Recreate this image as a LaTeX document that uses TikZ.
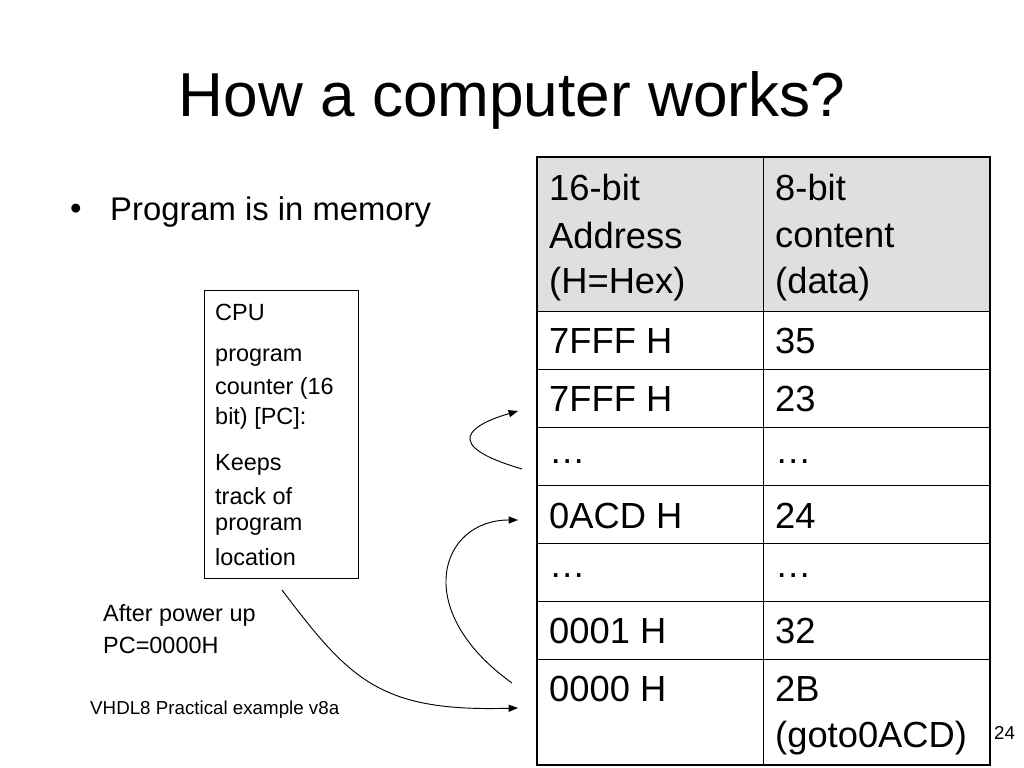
\documentclass[tikz,border=0pt]{standalone}
\usepackage{fontspec}
\setmainfont{Liberation Sans}
\usetikzlibrary{arrows.meta}
\tikzset{
  txt/.style={anchor=west, inner sep=0pt},
  big/.style={txt, font=\fontsize{31}{31}\selectfont},
  mid/.style={txt, font=\fontsize{20}{20}\selectfont},
  small/.style={txt, font=\fontsize{16}{16}\selectfont},
  link/.style={-{Triangle[length=8pt,width=6pt]}, line width=0.8pt}
}
\begin{document}
\begin{tikzpicture}[x=0.03cm,y=-0.03cm]
\useasboundingbox (0,0) rectangle (1024,768);
% title
\node[anchor=center, inner sep=0pt, font=\fontsize{53}{53}\selectfont] (title) at (512,100) {How a computer works?};
\node[txt, font=\fontsize{28}{28}\selectfont] (dot) at (70,212) {\textbullet};
\node[txt, font=\fontsize{28}{28}\selectfont] (prog) at (110,212) {Program is in memory};

% memory table
\fill[gray!25] (537,157) rectangle (990,311);
\foreach \y in {311,369,427,485,543,601,659}{
	\draw[line width=0.8pt] (537,\y) -- (990,\y);
}
\draw[line width=0.8pt] (763,157) -- (763,765);
\draw[line width=2pt] (537,157) rectangle (990,765);
\node[big] (ha) at (549,188) {16-bit};
\node[big] at (549,236) {Address};
\node[big] at (549,284) {(H=Hex)};
\node[big] (hb) at (775,188) {8-bit};
\node[big] at (775,236) {content};
\node[big] at (775,284) {(data)};
\foreach \n/\a/\b/\yy in {r1/7FFF H/35/341, r2/7FFF H/23/399, r3/\dots/\dots/462, r4/0ACD H/24/516, r5/\dots/\dots/576, r6/0001 H/32/631, r7/0000 H/2B/689}{
	\node[big] (\n a) at (549,\yy) {\a};
	\node[big] (\n b) at (775,\yy) {\b};
}
\node[big] (goto) at (775,738) {(goto0ACD)};
\node[small] (page) at (994,733) {24};

% CPU box
\draw[line width=0.8pt] (204,290) rectangle (358,578);
\node[mid] (cpu) at (215,312) {CPU};
\node[mid] at (215,358) {program};
\node[mid] at (215,388) {counter (16};
\node[mid] at (215,418) {bit) [PC]:};
\node[mid] at (215,465) {Keeps};
\node[mid] at (215,496) {track of};
\node[mid] at (215,527) {program};
\node[mid] at (215,557) {location};

\node[mid] (after) at (103,615) {After power up};
\node[mid] (pc) at (103,645) {PC=0000H};
\node[small] (foot) at (90,710) {VHDL8 Practical example v8a};

% arrows
\coordinate (s1) at (522,469);
\coordinate (e1) at (518,411);
\coordinate (s2) at (512,683);
\coordinate (e2) at (518,520);
\coordinate (s3) at (282,590);
\coordinate (e3) at (518,708);
\draw[link] (s1) .. controls (440,445) and (470,425) .. (e1);
\draw[link] (s2) .. controls (410,610) and (440,520) .. (e2);
\draw[link] (s3) .. controls (350,680) and (380,712) .. (e3);
\end{tikzpicture}
\end{document}
